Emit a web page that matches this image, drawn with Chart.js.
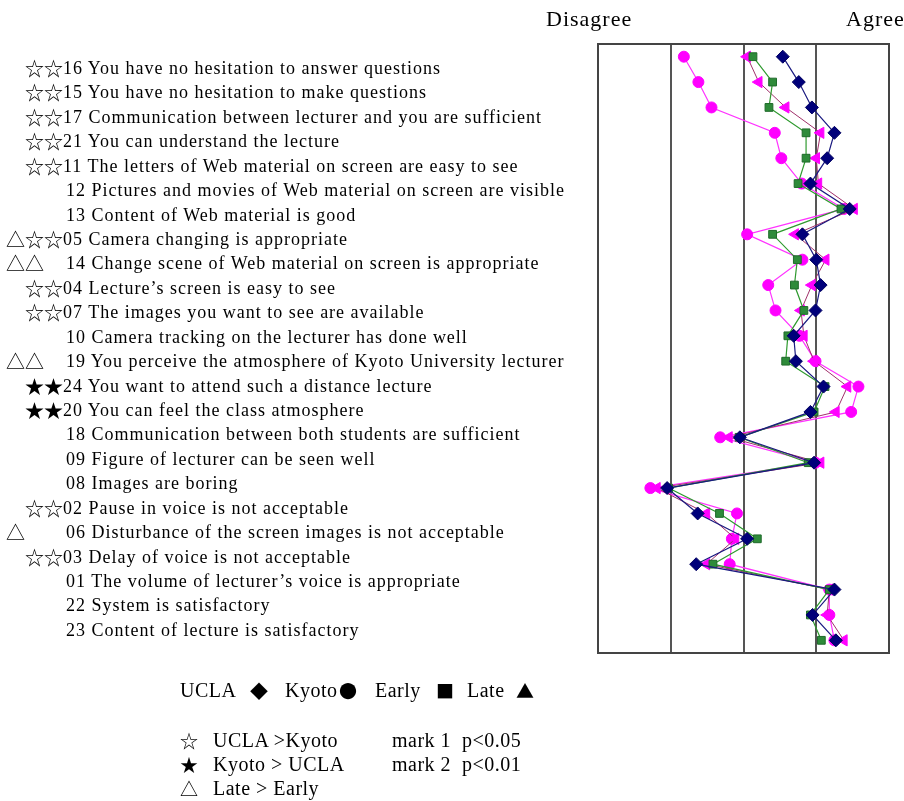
<!DOCTYPE html>
<html>
<head>
<meta charset="utf-8">
<script src="https://cdn.jsdelivr.net/npm/chart.js@4.4.1/dist/chart.umd.min.js"></script>
<style>
  html, body { margin:0; padding:0; background:#fff; }
  body { width:904px; height:801px; position:relative; overflow:hidden; font-family:"Liberation Serif","Times New Roman",serif; color:#000; }
  #c { position:absolute; left:0; top:0; }
  .lbl { position:absolute; font-size:18px; letter-spacing:1px; white-space:pre; line-height:20px; }
  .mk { font-family:"Noto Sans CJK JP","DejaVu Sans",sans-serif; font-size:19px; letter-spacing:0; }
  .t { position:absolute; white-space:pre; font-size:20px; letter-spacing:0.5px; line-height:22px; }
</style>
</head>
<body>
<canvas id="c" width="904" height="801"></canvas>
<div id="labels"></div>
<div class="t" style="left:546px;top:8px;font-size:22px;letter-spacing:1px;">Disagree</div>
<div class="t" style="left:846px;top:8px;font-size:22px;letter-spacing:1px;">Agree</div>

<div class="t" style="left:180px;top:679px;">UCLA</div>
<div class="t mk" style="left:250px;top:679px;font-size:18px;">◆</div>
<div class="t" style="left:285px;top:679px;">Kyoto</div>
<div class="t mk" style="left:339px;top:679px;font-size:18px;">●</div>
<div class="t" style="left:375px;top:679px;">Early</div>
<div class="t mk" style="left:436px;top:679px;font-size:18px;">■</div>
<div class="t" style="left:467px;top:679px;">Late</div>
<div class="t mk" style="left:516px;top:679px;font-size:18px;">▲</div>

<div class="t mk" style="left:180px;top:729px;font-size:18px;">☆</div>
<div class="t" style="left:213px;top:729px;">UCLA &gt;Kyoto</div>
<div class="t" style="left:392px;top:729px;">mark 1  p&lt;0.05</div>
<div class="t mk" style="left:180px;top:753px;font-size:18px;">★</div>
<div class="t" style="left:213px;top:753px;">Kyoto &gt; UCLA</div>
<div class="t" style="left:392px;top:753px;">mark 2  p&lt;0.01</div>
<div class="t mk" style="left:180px;top:777px;font-size:18px;">△</div>
<div class="t" style="left:213px;top:777px;">Late &gt; Early</div>

<script>
// ---- data ----
const questions = [
  "16 You have no hesitation to answer questions",
  "15 You have no hesitation to make questions",
  "17 Communication between lecturer and you are sufficient",
  "21 You can understand the lecture",
  "11 The letters of Web material on screen are easy to see",
  "12 Pictures and movies of Web material on screen are visible",
  "13 Content of Web material is good",
  "05 Camera changing is appropriate",
  "14 Change scene of Web material on screen is appropriate",
  "04 Lecture\u2019s screen is easy to see",
  "07 The images you want to see are available",
  "10 Camera tracking on the lecturer has done well",
  "19 You perceive the atmosphere of Kyoto University lecturer",
  "24 You want to attend such a distance lecture",
  "20 You can feel the class atmosphere",
  "18 Communication between both students are sufficient",
  "09 Figure of lecturer can be seen well",
  "08 Images are boring",
  "02 Pause in voice is not acceptable",
  "06 Disturbance of the screen images is not acceptable",
  "03 Delay of voice is not acceptable",
  "01 The volume of lecturer\u2019s voice is appropriate",
  "22 System is satisfactory",
  "23 Content of lecture is satisfactory"
];
const marks = [
  "☆☆","☆☆","☆☆","☆☆","☆☆","","","△☆☆","△△","☆☆","☆☆","","△△","★★","★★","","","","☆☆","△","☆☆","","",""
];
const ucla  = [3.54,3.76,3.94,4.25,4.15,3.92,4.46,3.81,4.00,4.06,3.99,3.69,3.72,4.10,3.92,2.95,3.97,1.95,2.37,3.05,2.35,4.25,3.95,4.27];
const kyoto = [2.18,2.38,2.56,3.43,3.52,3.80,4.38,3.05,3.81,3.34,3.44,3.77,3.99,4.58,4.48,2.68,3.99,1.72,2.91,2.84,2.81,4.18,4.18,4.25];
const early = [3.13,3.40,3.35,3.86,3.86,3.75,4.34,3.40,3.74,3.70,3.83,3.61,3.58,4.12,3.97,2.94,3.89,1.97,2.67,3.19,2.58,4.18,3.92,4.07];
const late  = [3.05,3.21,3.58,4.06,4.00,4.03,4.52,3.71,4.13,3.94,3.79,3.83,3.97,4.43,4.27,2.80,4.06,1.81,2.49,2.89,2.49,4.18,4.15,4.38];
const scaleMin = 1, scaleMax = 5;

// ---- left labels ----
const lab = document.getElementById('labels');
questions.forEach((q, i) => {
  const cy = 68 + 24.43 * i;
  const m = marks[i];
  const hasStar = /[☆★]/.test(m);
  if (m) {
    const d = document.createElement('div');
    d.className = 'lbl mk';
    d.style.top = (cy - 10) + 'px';
    d.style.left = (m[0] === '△' ? 6 : 25) + 'px';
    d.textContent = m;
    lab.appendChild(d);
    if (hasStar) {
      const w = d.getBoundingClientRect().width;
      const t = document.createElement('div');
      t.className = 'lbl';
      t.style.top = (cy - 10) + 'px';
      t.style.left = (parseFloat(d.style.left) + w) + 'px';
      t.textContent = q;
      lab.appendChild(t);
      return;
    }
  }
  const t = document.createElement('div');
  t.className = 'lbl';
  t.style.top = (cy - 10) + 'px';
  t.style.left = '66px';
  t.textContent = q;
  lab.appendChild(t);
});

// ---- chart ----
const frame = {
  id: 'frame',
  afterDraw(chart) {
    const a = chart.chartArea, ctx = chart.ctx;
    ctx.save();
    ctx.strokeStyle = '#444';
    ctx.lineWidth = 2;
    ctx.strokeRect(a.left, a.top, a.right - a.left, a.bottom - a.top);
    ctx.restore();
  }
};

new Chart(document.getElementById('c'), {
  type: 'line',
  plugins: [frame],
  data: {
    labels: questions,
    datasets: [
      { label:'UCLA', data:ucla, borderColor:'#1a1a80', backgroundColor:'#00007a', borderWidth:1.2,
        pointStyle:'rectRot', pointRadius:6.5, pointBorderColor:'#000060', pointBorderWidth:1, order:1 },
      { label:'Early', data:early, borderColor:'#2f9a2f', backgroundColor:'#2e8b3a', borderWidth:1.2,
        pointStyle:'rect', pointRadius:5.5, pointBorderColor:'#1f6a2a', pointBorderWidth:1, order:2 },
      { label:'Late', data:late, borderColor:'#a0306a', backgroundColor:'#ff00ff', borderWidth:1,
        pointStyle:'triangle', pointRotation:-90, pointRadius:6.5, pointBorderColor:'#ff00ff', pointBorderWidth:1, order:3 },
      { label:'Kyoto', data:kyoto, borderColor:'#ff33ff', backgroundColor:'#ff00ff', borderWidth:1.2,
        pointStyle:'circle', pointRadius:5.5, pointBorderColor:'#ff00ff', pointBorderWidth:1, order:4 }
    ]
  },
  options: {
    indexAxis: 'y',
    responsive: false,
    animation: false,
    events: [],
    layout: { padding: { left: 598, right: 15, top: 44, bottom: 148 } },
    plugins: { legend: { display:false }, tooltip: { enabled:false } },
    scales: {
      x: {
        type: 'linear', min: scaleMin, max: scaleMax,
        ticks: { display:false, stepSize:1 },
        grid: { color:'#555', lineWidth:2, drawTicks:false },
        border: { display:false }
      },
      y: {
        type: 'category', offset: true,
        ticks: { display:false },
        grid: { display:false, drawTicks:false },
        border: { display:false }
      }
    }
  }
});
</script>
</body>
</html>
